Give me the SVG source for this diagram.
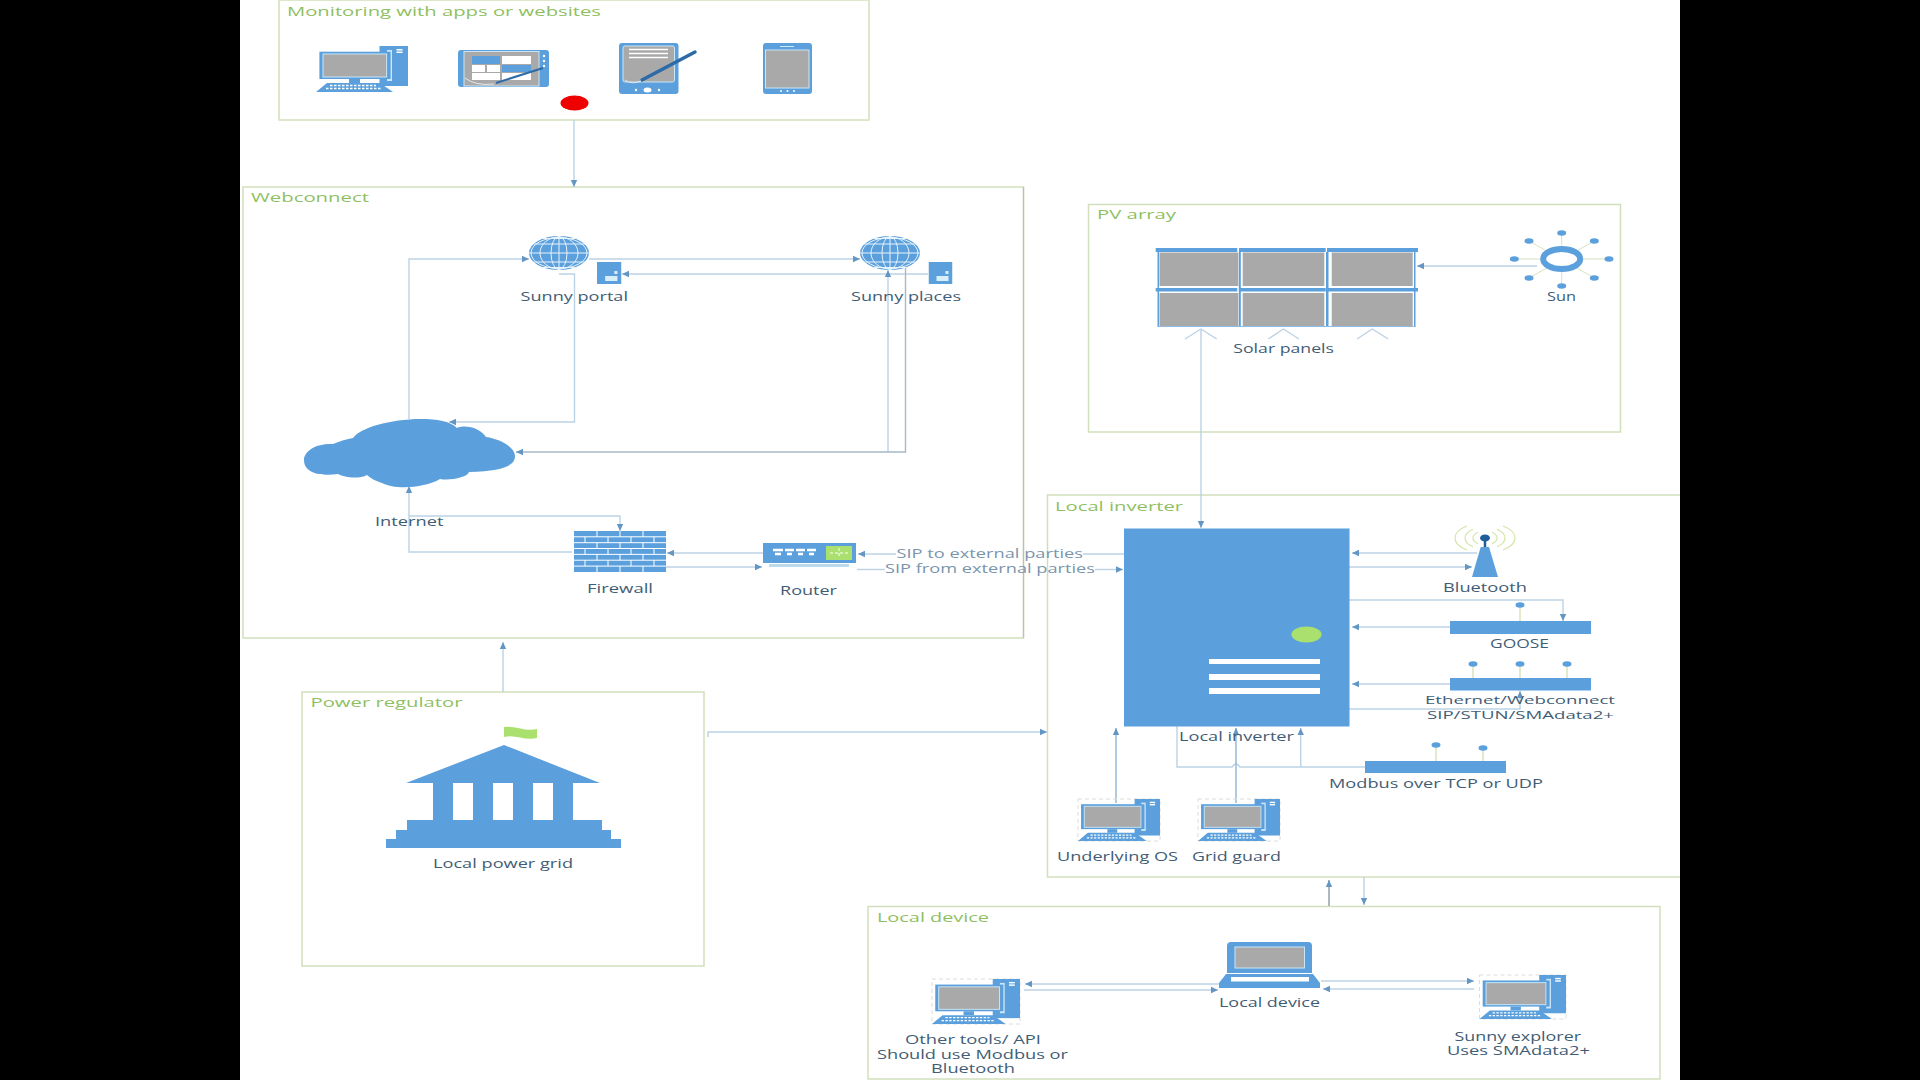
<svg xmlns="http://www.w3.org/2000/svg" width="1920" height="1080" viewBox="0 0 1920 1080">
<style>
text{font-family:"Open Sans","Liberation Sans",sans-serif;font-size:12.5px;fill:#3f5d75}
.g{fill:#8fbf62;font-size:13px}
.box{fill:#fff;stroke:#d2dfbc;stroke-width:1.5}
.b{fill:#5ba0dc}
.w{fill:#fff}
.gr{fill:#a9a9a9;stroke:#c9e6f7;stroke-width:1}
.c{fill:none;stroke:#bcd2e6;stroke-width:1.4}
.a{marker-end:url(#arr)}
.d{stroke:#d5e3c0;stroke-width:1;fill:none}
.pin{stroke:#c5d59a;stroke-width:1;fill:none}
.dash{fill:none;stroke:#dcdcdc;stroke-width:1;stroke-dasharray:4 3}
.t2{font-size:11.5px}
</style>
<defs>
<marker id="arr" markerUnits="userSpaceOnUse" markerWidth="9" markerHeight="8" refX="7" refY="4" orient="auto"><path d="M0 0.8L7 4L0 7.2Z" fill="#6496c4"/></marker>
<symbol id="pc" viewBox="0 0 92 46" preserveAspectRatio="none">
<rect class="b" x="63.5" y="0" width="28.5" height="40"/>
<rect class="w" x="80.5" y="3" width="6" height="1.5"/><rect class="w" x="80.5" y="5.5" width="6" height="1.5"/>
<rect x="71" y="4" width="5" height="31" fill="#cde8f8"/>
<rect class="b" x="3.4" y="5.7" width="71.2" height="27.3"/>
<rect class="gr" x="7" y="8" width="63.6" height="23"/>
<rect class="b" x="33" y="33" width="11" height="4"/>
<path class="b" d="M11 37H64L77 46H0Z"/>
<path d="M14 39.5H60M10 42.5H66" stroke="#fff" stroke-width="1.3" stroke-dasharray="2.5 1.5"/>
</symbol>
<symbol id="globe" viewBox="0 0 60 34" preserveAspectRatio="none">
<ellipse class="b" cx="30" cy="17" rx="30" ry="17"/>
<g fill="none" stroke="#e6f3fb" stroke-width="1"><ellipse cx="30" cy="17" rx="28" ry="15.5"/><ellipse cx="30" cy="17" rx="19" ry="16"/><ellipse cx="30" cy="17" rx="8" ry="16.5"/><path d="M30 0V34M0 17H60M4 8H56M4 26H56M12 2.5H48M12 31.5H48"/></g>
</symbol>
<symbol id="srv" viewBox="0 0 24 22" preserveAspectRatio="none">
<rect class="b" width="24" height="22"/><rect x="8" y="14" width="12" height="5" fill="#d8effa"/><rect x="17" y="9" width="3" height="3" fill="#d8effa"/>
</symbol>
</defs>
<rect width="1920" height="1080" fill="#000"/>
<rect x="240" width="1440" height="1080" fill="#fff"/>
<g id="containers">
<rect class="box" x="279" y="0" width="590" height="120"/>
<rect class="box" x="243" y="187" width="780.500" height="451"/>
<rect class="box" x="1088.500" y="204.500" width="532" height="227.500"/>
<path class="box" d="M1680 495H1047.500V877H1680"/>
<rect class="box" x="868" y="906.500" width="792" height="172.500"/>
<rect class="box" x="302" y="692" width="402" height="274"/>
<path d="M1023.500 187V638" stroke="#bdbdbd" stroke-width="1.200" fill="none"/>
<text class="g" x="287" y="16" textLength="314" lengthAdjust="spacingAndGlyphs">Monitoring with apps or websites</text>
<text class="g" x="251" y="202" textLength="118" lengthAdjust="spacingAndGlyphs">Webconnect</text>
<text class="g" x="1097" y="219" textLength="79" lengthAdjust="spacingAndGlyphs">PV array</text>
<text class="g" x="1055" y="511" textLength="128" lengthAdjust="spacingAndGlyphs">Local inverter</text>
<text class="g" x="310.500" y="707" textLength="152" lengthAdjust="spacingAndGlyphs">Power regulator</text>
<text class="g" x="877" y="922" textLength="112" lengthAdjust="spacingAndGlyphs">Local device</text>
</g>
<g id="connectors">
<path class="c a" d="M574 120V187"/>
<path class="c a" d="M409 419V259H529"/>
<path class="c a" d="M589 259H860"/>
<path class="c a" d="M928 274H622"/>
<path class="c a" d="M559 274H574.500V422H449"/>
<path class="c a" d="M888 452V270"/>
<path class="c a" d="M905.500 262V452H516" style="stroke:#a8b8c8"/>
<path class="c a" d="M572 552H409V486"/>
<path class="c a" d="M409 516H620V531"/>
<path class="c a" d="M763 553H667"/>
<path class="c a" d="M666 567H762"/>
<path class="c a" d="M896 554H858"/>
<path class="c" d="M1083 554H1124"/>
<path class="c" d="M857 569.500H885"/>
<path class="c a" d="M1095 569.500H1123"/>
<path class="c a" d="M503 692V642"/>
<path class="c a" d="M708 737V732H1047"/>
<path class="c a" d="M1537 266H1417"/>
<path class="c a" d="M1201 330V528"/>
<path class="c" d="M1185 339L1201 329L1216.700 339M1268.300 339L1283.300 329L1299 339M1357 339L1372.300 329L1388.300 339"/>
<path class="c a" d="M1477 553H1352"/>
<path class="c a" d="M1349 567H1472"/>
<path class="c a" d="M1349 600H1563V621"/>
<path class="c a" d="M1450 627H1352"/>
<path class="c a" d="M1450 684H1352"/>
<path class="c a" d="M1349 709H1520V691"/>
<path class="c" d="M1177 726V767H1232Q1236 761 1240 767H1365"/>
<path class="c a" d="M1300.700 767V728"/>
<path class="c a" d="M1116 803V728" style="stroke:#8fb3d4"/>
<path class="c a" d="M1236 803V728" style="stroke:#8fb3d4"/>
<path class="c a" d="M1364 877V905"/>
<path class="c a" d="M1329 906V880" style="stroke:#8f9aa4"/>
<path class="c a" d="M1219 984H1025"/>
<path class="c a" d="M1024 990H1218"/>
<path class="c a" d="M1321 981H1474"/>
<path class="c a" d="M1474 989H1323"/>
</g>
<g id="mon-pc"><use href="#pc" x="316" y="46" width="92" height="46"/></g>
<g id="mon-tablet">
<rect class="b" x="458" y="50" width="91" height="37" rx="3"/>
<rect class="gr" x="464" y="51.500" width="75" height="34.500"/>
<rect class="b" x="472" y="56" width="28" height="8"/><rect class="w" x="502" y="56" width="29" height="8"/>
<rect class="w" x="472" y="65" width="13" height="7"/><rect class="w" x="487" y="65" width="13" height="7"/><rect class="b" x="502" y="65" width="29" height="7"/>
<rect class="w" x="472" y="73" width="28" height="7"/><rect class="w" x="502" y="73" width="29" height="7"/>
<path d="M496 83L543 68" stroke="#2c6aa8" stroke-width="2"/>
<path d="M465 78Q475 86 494 84" fill="none" stroke="#e8e8e8" stroke-width="1"/>
<circle class="w" cx="544" cy="56" r="1.200"/><circle class="w" cx="544" cy="61" r="1.200"/><circle class="w" cx="544" cy="66" r="1.200"/>
</g>
<g id="mon-pad">
<rect class="b" x="619" y="43" width="59.500" height="51" rx="3"/>
<rect class="gr" x="623" y="46" width="51.500" height="36" rx="2"/>
<path d="M629 49.500H668M629 53.500H668M629 57.500H668" stroke="#fff" stroke-width="1.500"/>
<path d="M642 80L695 52" stroke="#2c6aa8" stroke-width="3.500" stroke-linecap="round"/>
<path d="M625 80Q632 85 641 81" fill="none" stroke="#e8e8e8" stroke-width="1"/>
<ellipse class="w" cx="647.500" cy="90" rx="4" ry="2.500"/><circle class="w" cx="636" cy="90" r="1.200"/><circle class="w" cx="659" cy="90" r="1.200"/>
</g>
<g id="mon-phone">
<rect class="b" x="763" y="43" width="49" height="51" rx="3"/>
<rect class="gr" x="765.500" y="50" width="43.500" height="38"/>
<path d="M780 46.500H794" stroke="#cde8f8" stroke-width="1"/>
<circle class="w" cx="781" cy="91" r="1"/><circle class="w" cx="787.500" cy="91" r="1"/><circle class="w" cx="794" cy="91" r="1"/>
</g>
<ellipse id="red-dot" cx="574.500" cy="103" rx="14" ry="7.500" fill="#f00000"/>
<g id="sunny-portal"><use href="#globe" x="529" y="236" width="60" height="34"/><use href="#srv" x="597" y="262" width="24.500" height="22"/>
<text x="520.500" y="301" textLength="107.500" lengthAdjust="spacingAndGlyphs">Sunny portal</text></g>
<g id="sunny-places"><use href="#globe" x="860" y="236" width="60" height="34"/><use href="#srv" x="928.500" y="262" width="24" height="22"/>
<text x="851" y="301" textLength="110" lengthAdjust="spacingAndGlyphs">Sunny places</text></g>
<g id="internet">
<path class="b" d="M304 460C304 450 318 443 333 444C340 441 347 439 353 438C360 428 390 419 421 419C437 419 450 421 457 428C463 425 478 426 486 437C500 439 515 447 515 456C515 465 505 471 469 472C468 477 450 481 440 479C425 488 395 490 382 483C376 481 370 478 367 475C360 479 345 478 338 474C325 476 304 475 304 460Z"/>
<text x="375" y="526" textLength="68.500" lengthAdjust="spacingAndGlyphs">Internet</text></g>
<g id="firewall">
<rect class="b" x="574" y="531" width="92" height="41"/>
<g stroke="#fff" stroke-width="1" fill="none"><path d="M574 536.800H666M574 542.700H666M574 548.500H666M574 554.400H666M574 560.200H666M574 566.100H666"/>
<path d="M597 531V536.800M620 531V536.800M643 531V536.800M585 536.800V542.700M608 536.800V542.700M631 536.800V542.700M654 536.800V542.700M597 542.700V548.500M620 542.700V548.500M643 542.700V548.500M585 548.500V554.400M608 548.500V554.400M631 548.500V554.400M654 548.500V554.400M597 554.400V560.200M620 554.400V560.200M643 554.400V560.200M585 560.200V566.100M608 560.200V566.100M631 560.200V566.100M654 560.200V566.100M597 566.100V572M620 566.100V572M643 566.100V572"/></g>
<text x="587" y="593" textLength="66" lengthAdjust="spacingAndGlyphs">Firewall</text></g>
<g id="router">
<rect class="b" x="763" y="543" width="93" height="20"/>
<rect x="769" y="564" width="80" height="3" fill="#bcdcec"/>
<path d="M773 550H783M785 550H794M796 550H805M807 550H816M775 554H781M787 554H792M798 554H803M809 554H814" stroke="#fff" stroke-width="2.500"/>
<rect x="826" y="546" width="26" height="14" fill="#a9e06e"/>
<path d="M830 553H848M839 548V558" stroke="#fff" stroke-width="1" stroke-dasharray="3 2"/>
<text x="780" y="595" textLength="57" lengthAdjust="spacingAndGlyphs">Router</text></g>
<text id="sip-to" x="896.500" y="558" textLength="186.500" lengthAdjust="spacingAndGlyphs" style="fill:#7a95ac">SIP to external parties</text>
<text id="sip-from" x="885" y="573" textLength="210" lengthAdjust="spacingAndGlyphs" style="fill:#7a95ac">SIP from external parties</text>
<g id="solar-panels">
<path class="b" d="M1155.700 248H1237.300V252H1155.700ZM1239 248H1325.700V252H1239ZM1327 248H1418V252H1327ZM1155.700 288H1237.300V291.500H1155.700ZM1239 288H1325.700V291.500H1239ZM1327 288H1418V291.500H1327Z"/>
<path class="b" d="M1157.500 252H1159V327H1157.500ZM1238.800 252H1240.800V327H1238.800ZM1326 252H1328.500V327H1326ZM1414 252H1415.500V327H1414Z"/>
<g fill="#a9a9a9"><rect x="1159.500" y="252.500" width="78.800" height="33.500"/><rect x="1242.700" y="252.500" width="81.600" height="33.500"/><rect x="1331.700" y="252.500" width="81" height="33.500"/><rect x="1159.500" y="293" width="78.800" height="33"/><rect x="1242.700" y="293" width="81.600" height="33"/><rect x="1331.700" y="293" width="81" height="33"/></g>
<path d="M1157.500 326.500H1415.500" stroke="#8fbce4" stroke-width="1.200"/>
<path d="M1197 286.500H1205M1280 286.500H1288M1368 286.500H1376" stroke="#fff" stroke-width="1.200"/>
<text x="1233.300" y="353" textLength="100.700" lengthAdjust="spacingAndGlyphs">Solar panels</text></g>
<g id="sun">
<path class="d" d="M1561.700 233V286M1514.300 259H1609M1529 241L1594.300 278M1594.300 241L1529 278"/>
<ellipse cx="1561.700" cy="259" rx="18.500" ry="10" fill="#fff" stroke="#5ba0dc" stroke-width="6"/>
<g class="b"><ellipse cx="1561.700" cy="233" rx="4.500" ry="2.800"/><ellipse cx="1609" cy="259" rx="4.500" ry="2.800"/><ellipse cx="1514.300" cy="259" rx="4.500" ry="2.800"/><ellipse cx="1561.700" cy="286" rx="4.500" ry="2.800"/><ellipse cx="1529" cy="241" rx="4.500" ry="2.800"/><ellipse cx="1594.300" cy="241" rx="4.500" ry="2.800"/><ellipse cx="1529" cy="278" rx="4.500" ry="2.800"/><ellipse cx="1594.300" cy="278" rx="4.500" ry="2.800"/></g>
<text x="1547" y="301" textLength="29" lengthAdjust="spacingAndGlyphs">Sun</text></g>
<g id="local-inverter">
<rect class="b" x="1124" y="528.500" width="225.500" height="198"/>
<ellipse cx="1306.500" cy="634.500" rx="15" ry="8" fill="#a9e06e"/>
<rect class="w" x="1209" y="659" width="111" height="5"/><rect class="w" x="1209" y="674" width="111" height="6"/><rect class="w" x="1209" y="688" width="111" height="6"/>
<text x="1179" y="741" textLength="115" lengthAdjust="spacingAndGlyphs">Local inverter</text></g>
<g id="bluetooth">
<path d="M1467 526A30 15 0 0 0 1467 550M1503 526A30 15 0 0 1 1503 550M1473 529.200A20 11 0 0 0 1473 546.800M1497 529.200A20 11 0 0 1 1497 546.800M1478 532.300A12 7 0 0 0 1478 543.700M1492 532.300A12 7 0 0 1 1492 543.700" fill="none" stroke="#d5e5a8" stroke-width="1.200"/>
<path d="M1485 538V548" stroke="#1f5f99" stroke-width="2.500"/><ellipse cx="1485" cy="538" rx="5" ry="3.500" fill="#1f5f99"/>
<path class="b" d="M1480.700 547H1489L1498 577H1472Z"/>
<text x="1443" y="592" textLength="84" lengthAdjust="spacingAndGlyphs">Bluetooth</text></g>
<g id="goose">
<path class="pin" d="M1520 605V621"/><ellipse class="b" cx="1520" cy="605" rx="4.500" ry="2.800"/>
<rect class="b" x="1450" y="621" width="141" height="13"/>
<text x="1490" y="648" textLength="59" lengthAdjust="spacingAndGlyphs">GOOSE</text></g>
<g id="ethernet">
<path class="pin" d="M1473 664V678M1520 664V678M1567 664V678"/>
<ellipse class="b" cx="1473" cy="664" rx="4.500" ry="2.800"/><ellipse class="b" cx="1520" cy="664" rx="4.500" ry="2.800"/><ellipse class="b" cx="1567" cy="664" rx="4.500" ry="2.800"/>
<rect class="b" x="1450" y="678" width="141" height="12.500"/>
<text class="t2" x="1425" y="704" textLength="190" lengthAdjust="spacingAndGlyphs">Ethernet/Webconnect</text>
<text class="t2" x="1427" y="718.500" textLength="187" lengthAdjust="spacingAndGlyphs">SIP/STUN/SMAdata2+</text></g>
<g id="modbus">
<path class="pin" d="M1436 745V761M1483 748V761"/>
<ellipse class="b" cx="1436" cy="745" rx="4.500" ry="2.800"/><ellipse class="b" cx="1483" cy="748" rx="4.500" ry="2.800"/>
<rect class="b" x="1365" y="761" width="141" height="12"/>
<text x="1329" y="788" textLength="214" lengthAdjust="spacingAndGlyphs">Modbus over TCP or UDP</text></g>
<g id="underlying-os"><rect class="dash" x="1078" y="799" width="82" height="42"/><use href="#pc" x="1078" y="799" width="82" height="42"/>
<text x="1057" y="861" textLength="121" lengthAdjust="spacingAndGlyphs">Underlying OS</text></g>
<g id="grid-guard"><rect class="dash" x="1198" y="799" width="82" height="42"/><use href="#pc" x="1198" y="799" width="82" height="42"/>
<text x="1192" y="861" textLength="89" lengthAdjust="spacingAndGlyphs">Grid guard</text></g>
<g id="local-power-grid">
<path d="M504 727C515 725 525 732 537 729V738C525 741 515 734 504 737Z" fill="#a9e06e"/>
<path class="b" d="M504 745L600 783H573V820H602V830H611V839H621V848H386V839H396V830H407V820H433V783H406Z"/>
<rect class="w" x="453" y="783" width="20" height="37"/><rect class="w" x="493" y="783" width="20" height="37"/><rect class="w" x="533" y="783" width="20" height="37"/>
<text x="433" y="868" textLength="140" lengthAdjust="spacingAndGlyphs">Local power grid</text></g>
<g id="local-device">
<path class="b" d="M1231 942H1308Q1312 942 1312 946V973H1227V946Q1227 942 1231 942Z"/>
<rect class="gr" x="1235" y="947" width="69.500" height="21"/>
<path class="b" d="M1226 974H1313L1320 983V988H1219V983Z"/>
<rect class="w" x="1231" y="977" width="78" height="4.500"/>
<text x="1219" y="1007" textLength="101" lengthAdjust="spacingAndGlyphs">Local device</text></g>
<g id="other-tools"><rect class="dash" x="932" y="979" width="88" height="45"/><use href="#pc" x="932" y="979" width="88" height="45"/>
<text x="905" y="1044" textLength="136" lengthAdjust="spacingAndGlyphs">Other tools/ API</text>
<text x="877" y="1059" textLength="191" lengthAdjust="spacingAndGlyphs">Should use Modbus or</text>
<text x="931" y="1073" textLength="84" lengthAdjust="spacingAndGlyphs">Bluetooth</text></g>
<g id="sunny-explorer"><rect class="dash" x="1479.500" y="975" width="86.500" height="44"/><use href="#pc" x="1479.500" y="975" width="86.500" height="44"/>
<text x="1454.500" y="1041" textLength="126.500" lengthAdjust="spacingAndGlyphs">Sunny explorer</text>
<text x="1447" y="1055" textLength="143" lengthAdjust="spacingAndGlyphs">Uses SMAdata2+</text></g>
</svg>
